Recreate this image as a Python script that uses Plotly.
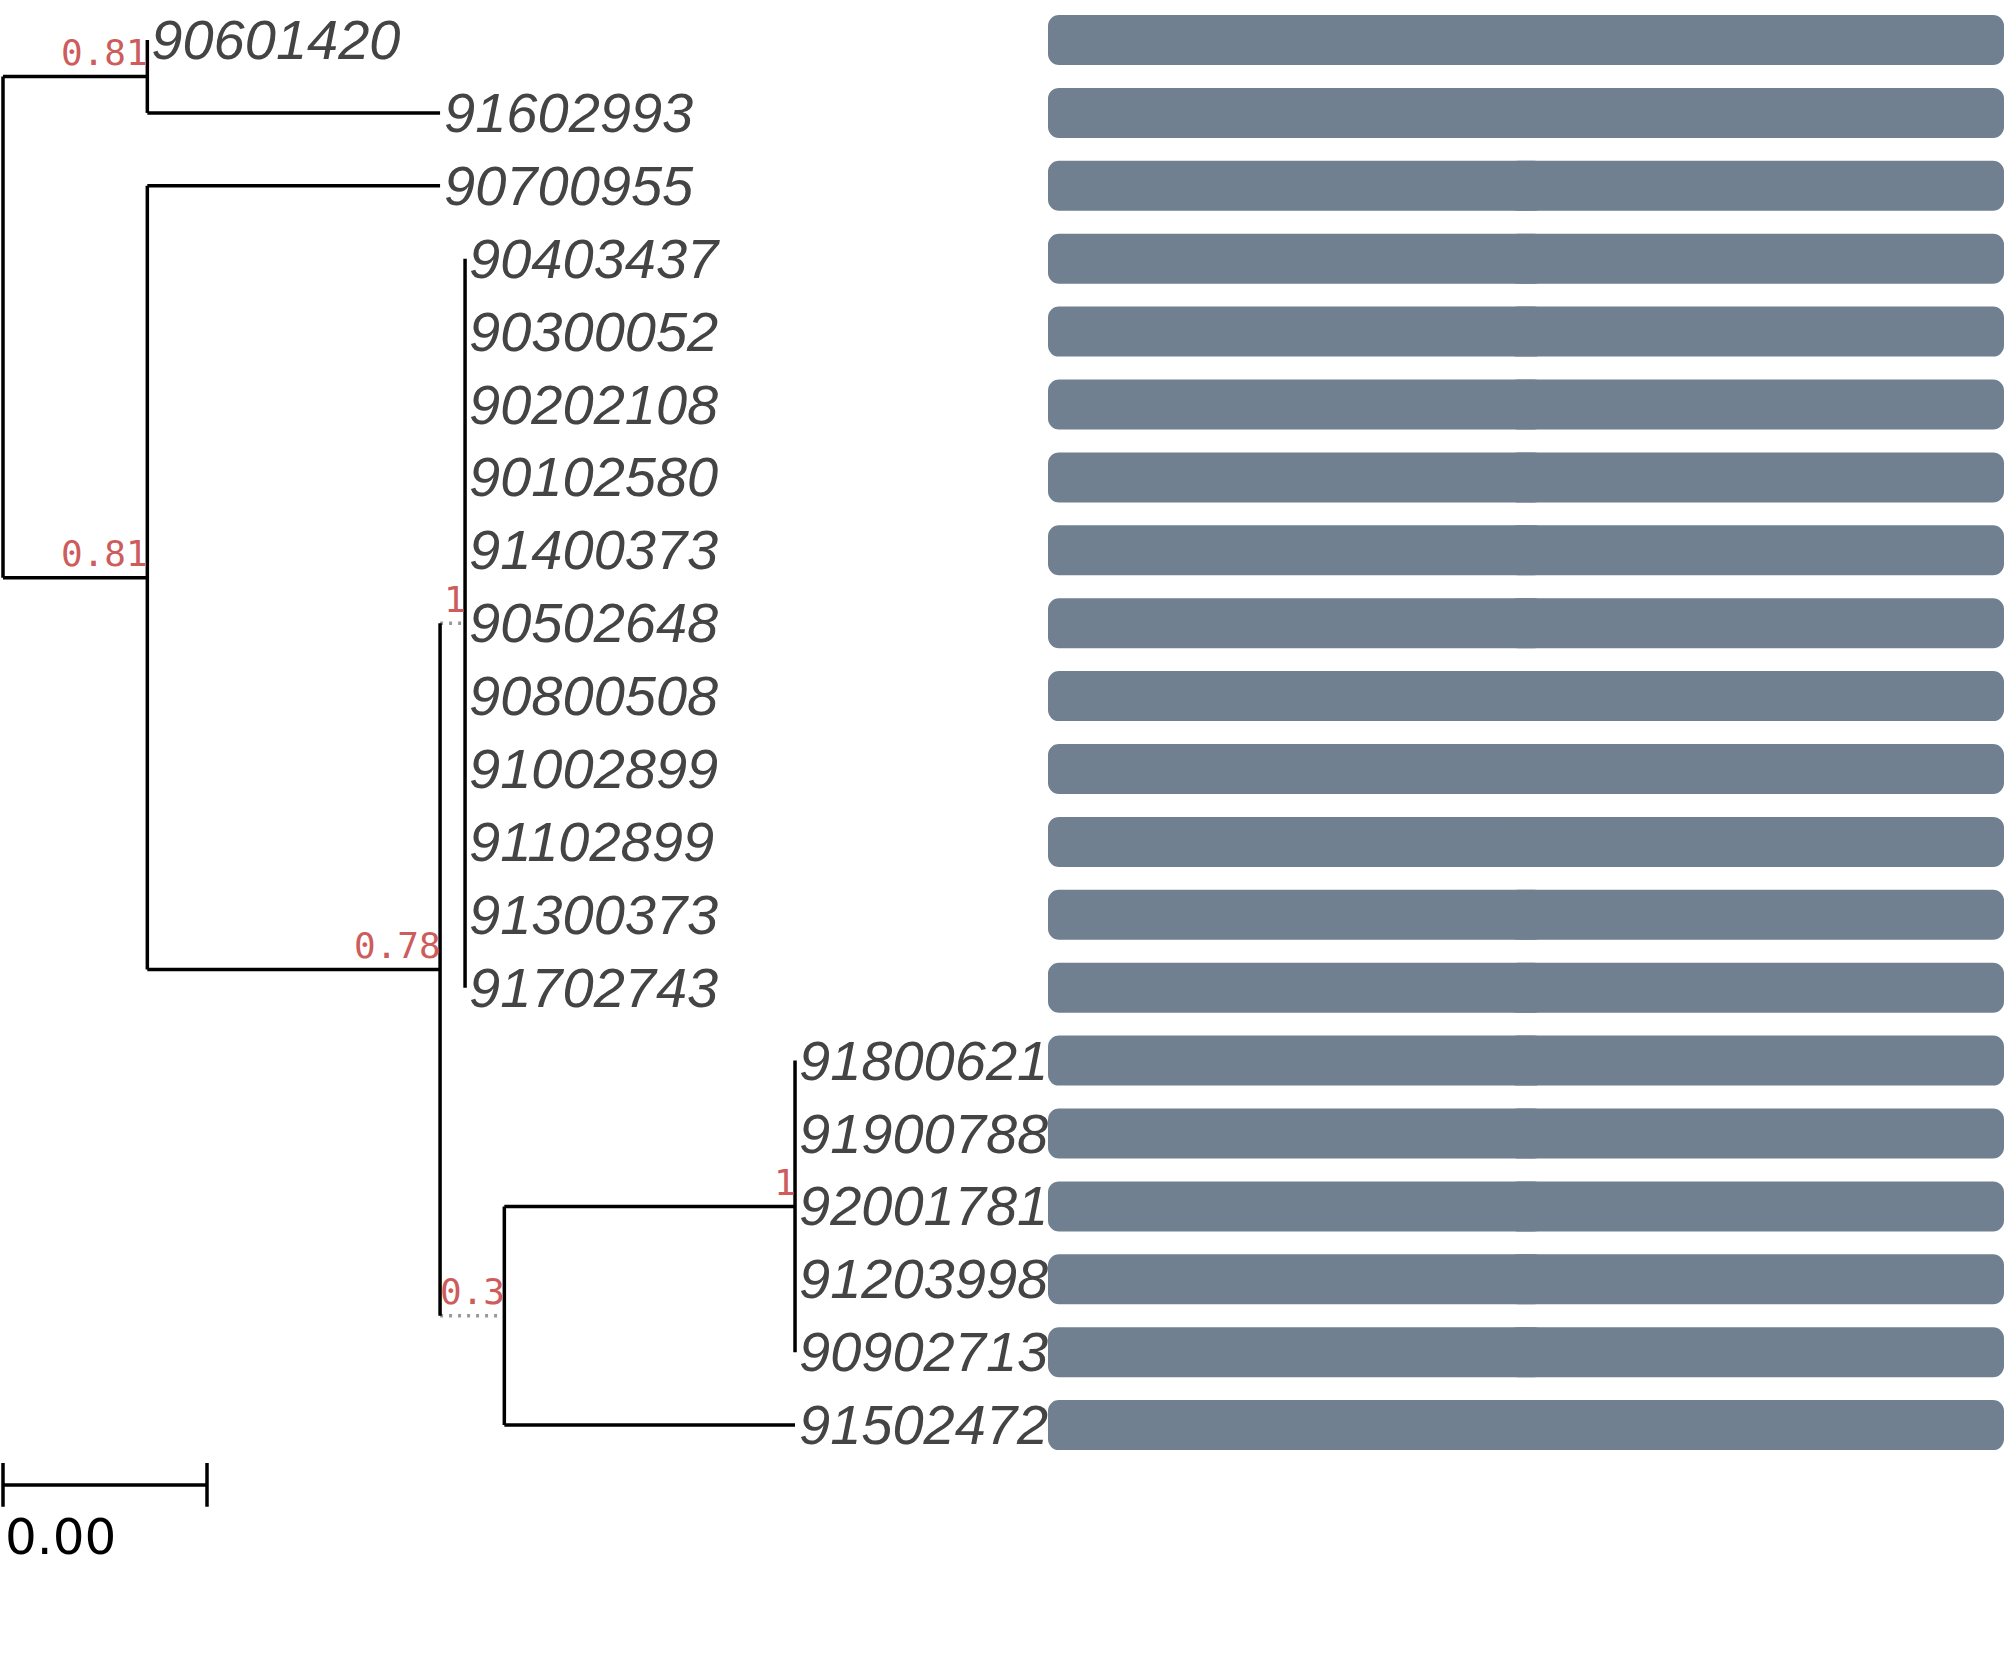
import plotly.graph_objects as go

# ---------------- tree data ----------------
tip_labels = ["90601420", "91602993", "90700955", "90403437", "90300052",
              "90202108", "90102580", "91400373", "90502648", "90800508",
              "91002899", "91102899", "91300373", "91702743", "91800621",
              "91900788", "92001781", "91203998", "90902713", "91502472"]
tip_parent = ["A", "A", "B", "D", "D", "D", "D", "D", "D", "D",
              "D", "D", "D", "D", "F", "F", "F", "F", "F", "E"]
tip_depth = [0.00283, 0.00857, 0.00857, 0.00906, 0.00906, 0.00906, 0.00906,
             0.00906, 0.00906, 0.00906, 0.00906, 0.00906, 0.00906, 0.00906,
             0.01553, 0.01553, 0.01553, 0.01553, 0.01553, 0.01553]

node_names = ["root", "A", "B", "C", "D", "E", "F"]
node_parent = [None, "root", "root", "B", "C", "C", "E"]
node_depth = [0.0, 0.00283, 0.00283, 0.00857, 0.00906, 0.00983, 0.01553]
node_support = ["", "0.81", "0.81", "0.78", "1", "0.3", "1"]

bar_values = [1.0, 1.0, 1.0, 1.0, 1.0, 1.0, 1.0, 1.0, 1.0, 1.0,
              1.0, 1.0, 1.0, 1.0, 1.0, 1.0, 1.0, 1.0, 1.0, 1.0]

scale_width = 0.004
scale_label = "0.00"

# branches drawn dotted (child node names)
dotted = {"D", "E"}

# ---------------- layout of the tree ----------------
tip_y = [i + 1 for i in range(len(tip_labels))]
depth = dict(zip(node_names, node_depth))
parent = dict(zip(node_names, node_parent))


def child_ys(name):
    ys = [y for y, p in zip(tip_y, tip_parent) if p == name]
    ys += [node_y(n) for n in node_names if parent[n] == name]
    return ys


def node_y(name):
    ys = child_ys(name)
    return (min(ys) + max(ys)) / 2


solid_x, solid_y, dot_x, dot_y = [], [], [], []
for y, p, d in zip(tip_y, tip_parent, tip_depth):
    solid_x += [depth[p], d, None]
    solid_y += [y, y, None]
for n in node_names:
    ny = node_y(n)
    ys = child_ys(n)
    solid_x += [depth[n], depth[n], None]
    solid_y += [min(ys), max(ys), None]
    if parent[n] is None:
        continue
    if n in dotted:
        dot_x += [depth[parent[n]], depth[n], None]
        dot_y += [ny, ny, None]
    else:
        solid_x += [depth[parent[n]], depth[n], None]
        solid_y += [ny, ny, None]

W, H = 2007, 1667
px_per_unit = 51000
x_min = -3 / px_per_unit
row_px = 72.9
y_top = 1 - 40 / row_px

fig = go.Figure()

fig.add_trace(go.Scatter(x=dot_x, y=dot_y, mode="lines",
                         line=dict(color="#9a9a9a", width=3.5, dash="3px,6px"),
                         hoverinfo="skip"))
fig.add_trace(go.Scatter(x=solid_x, y=solid_y, mode="lines",
                         line=dict(color="black", width=3.5),
                         hoverinfo="skip"))

# tip labels (small nudge right/down like the original)
fig.add_trace(go.Scatter(x=[d + 4 / px_per_unit for d in tip_depth],
                         y=[y + 5 / row_px for y in tip_y],
                         mode="text", text=tip_labels,
                         textposition="middle right",
                         textfont=dict(family="Liberation Sans", size=56,
                                       color="#444444", style="italic"),
                         hoverinfo="skip"))

# bars panel: two overlapping pieces so both outer ends get rounded corners
bar_style = dict(color="#708090", cornerradius=11, line_width=0)
fig.add_trace(go.Bar(x=[-0.52 * v for v in bar_values],
                     base=[0.52 * v for v in bar_values],
                     y=tip_y, orientation="h", width=0.686, marker=bar_style,
                     xaxis="x2", yaxis="y", hoverinfo="skip"))
fig.add_trace(go.Bar(x=[0.52 * v for v in bar_values],
                     base=[0.48 * v for v in bar_values],
                     y=tip_y, orientation="h", width=0.686, marker=bar_style,
                     xaxis="x2", yaxis="y", hoverinfo="skip"))

# support values
for n, s in zip(node_names, node_support):
    if not s:
        continue
    fig.add_annotation(x=depth[n], y=node_y(n) - 0.33, text=s, showarrow=False,
                       xanchor="right", yanchor="middle", xshift=3,
                       font=dict(family="DejaVu Sans Mono", size=36, color="#CD5C5C"))

# scale bar
n_tips = len(tip_labels)
y_bar = n_tips + 0.82
fig.add_trace(go.Scatter(x=[0, scale_width, None, 0, 0, None, scale_width, scale_width],
                         y=[y_bar, y_bar, None, y_bar - 0.3, y_bar + 0.3, None,
                            y_bar - 0.3, y_bar + 0.3],
                         mode="lines", line=dict(color="black", width=3.5),
                         hoverinfo="skip"))
fig.add_annotation(x=0, y=y_bar + 0.72, text=scale_label, showarrow=False,
                   xanchor="left", yanchor="middle", xshift=0,
                   font=dict(family="DejaVu Sans", size=50, color="black"))

fig.update_layout(
    width=W, height=H,
    margin=dict(l=0, r=0, t=0, b=0),
    paper_bgcolor="white", plot_bgcolor="white",
    showlegend=False,
    barmode="overlay",
    xaxis=dict(domain=[0, 1], range=[x_min, x_min + W / px_per_unit],
               visible=False, fixedrange=True),
    xaxis2=dict(domain=[1048 / W, 2004 / W], range=[0, 1], anchor="y",
                visible=False, fixedrange=True),
    yaxis=dict(range=[y_top + H / row_px, y_top], visible=False, fixedrange=True),
)

fig.write_html("out.html", config={"displayModeBar": False},
               post_script="document.body.style.margin='0';")
